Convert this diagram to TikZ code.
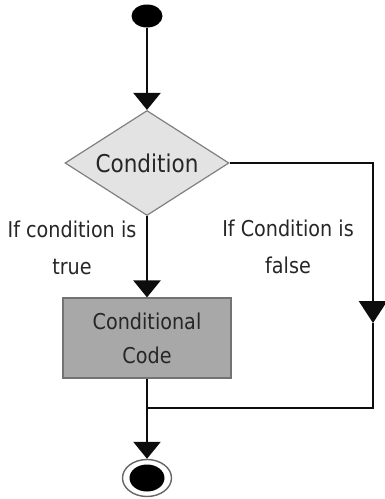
\documentclass[tikz,border=0pt]{standalone}
\usepackage{fontspec}
\setmainfont{DejaVu Sans}[FakeStretch=0.88]
\usetikzlibrary{arrows.meta,shapes.geometric}

\begin{document}
\begin{tikzpicture}[
    x=1pt, y=-1pt,
    every node/.append style={text=black!85, inner sep=0pt},
    flow/.style={draw=black!95, line width=2.6pt},
    tip/.style={-{Triangle[width=27pt,length=17pt]}},
    longtip/.style={-{Triangle[width=28pt,length=22pt]}},
    startdot/.style={ellipse, fill=black, minimum width=31pt, minimum height=23pt},
    decision/.style={diamond, aspect=1.56, draw=black!50, fill=black!11, line width=1.2pt,
        minimum width=164pt, minimum height=105pt, font=\fontsize{24.5}{29}\selectfont},
    action/.style={rectangle, draw=black!55, fill=black!34, line width=1.2pt, align=center,
        minimum width=168pt, minimum height=80pt, font=\fontsize{21.8}{34}\selectfont},
    branch/.style={align=center, font=\fontsize{21.8}{37}\selectfont},
    stopring/.style={ellipse, draw=black!60, fill=white, line width=1.4pt,
        minimum width=49pt, minimum height=37pt},
    stopdot/.style={ellipse, fill=black, minimum width=35pt, minimum height=27pt}
]
    \useasboundingbox (0,0) rectangle (384,499);
    % nodes
    \node[startdot] (start) at (147,16) {};
    \node[decision] (cond) at (147,163) {Condition};
    \node[action] (code) at (147,338) {Conditional\\Code};
    \node[stopring] (stop) at (147,478) {};
    \node[stopdot] (stopdot) at (stop.center) {};
    \node[branch] (yes) at (72,248) {If condition is\\true};
    \node[branch] (no) at (288,247) {If Condition is\\false};
    \coordinate (fr) at (373,323);
    \coordinate (fb) at (373,408);
    \coordinate (join) at (147,408);
    % connectors
    \draw[flow,tip] (start) -- (cond);
    \draw[flow,tip] (cond) -- (code);
    \draw[flow] (code) -- (join);
    \draw[flow,tip] (join) -- (stop);
    \draw[flow,longtip] (cond.east) -| (fr);
    \draw[flow] (fr) -- (fb) -- (join);
\end{tikzpicture}
\end{document}
